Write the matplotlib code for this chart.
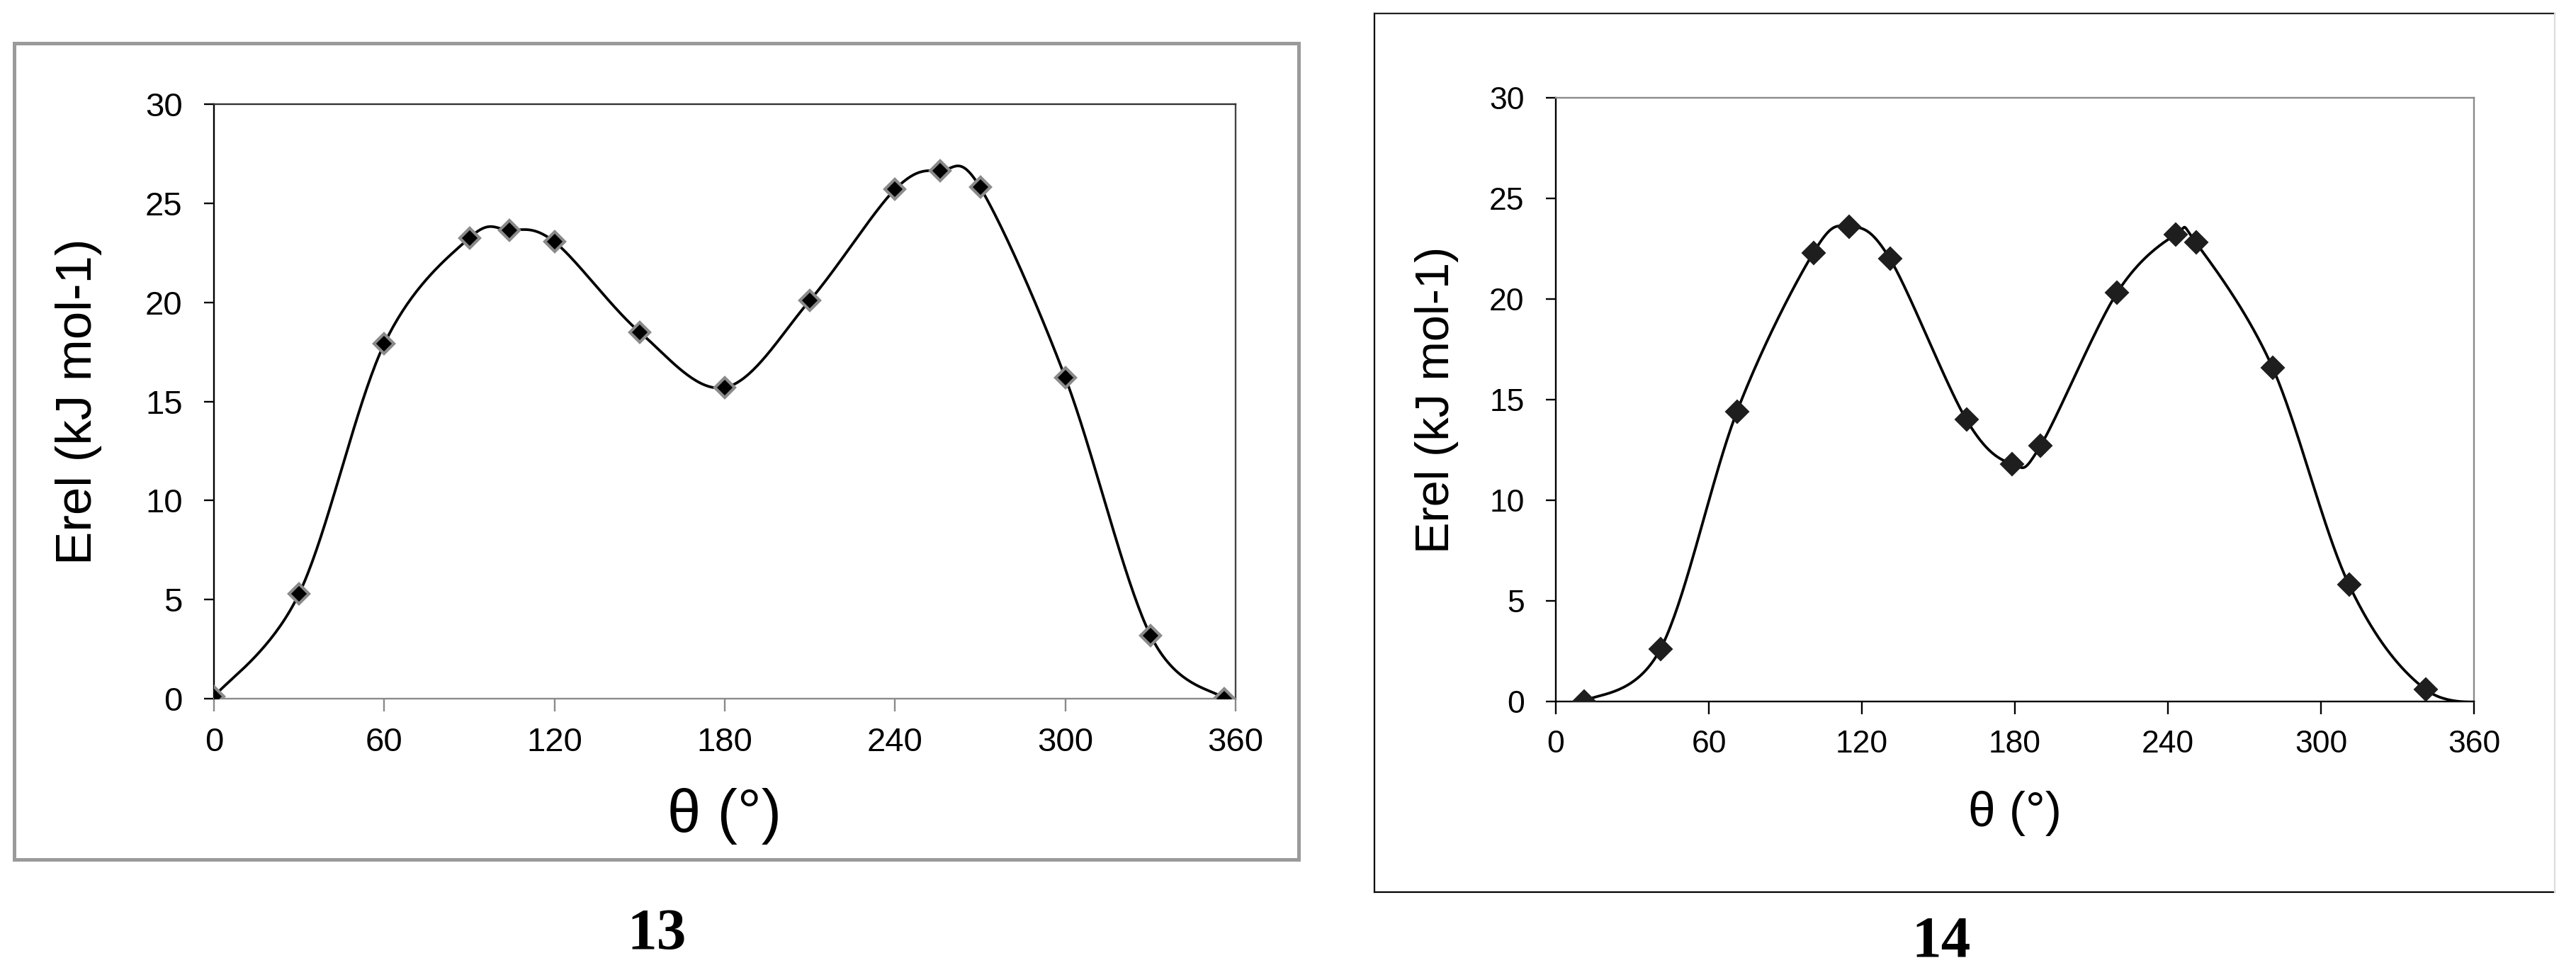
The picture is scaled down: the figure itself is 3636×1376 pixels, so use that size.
import matplotlib
matplotlib.use("Agg")
import matplotlib.pyplot as plt
from matplotlib.lines import Line2D
import numpy as np

# conformer 13
theta_13 = [0, 30, 60, 90, 104, 120, 150, 180, 210, 240, 256, 270, 300, 330, 356]
erel_13 = [0.1, 5.3, 17.9, 23.25, 23.65, 23.05, 18.5, 15.7, 20.1, 25.7, 26.65, 25.8, 16.2, 3.2, 0.0]

# conformer 14 (last point is the periodic copy of the first, off the axis)
theta_14 = [11, 41, 71, 101, 115, 131, 161, 179, 190, 220, 243, 251, 281, 311, 341, 371]
erel_14 = [0.0, 2.6, 14.4, 22.3, 23.6, 22.0, 14.0, 11.8, 12.7, 20.3, 23.2, 22.8, 16.6, 5.8, 0.6, 0.0]

x_ticks = [0, 60, 120, 180, 240, 300, 360]
y_ticks = [0, 5, 10, 15, 20, 25, 30]
labels = ["13", "14"]

W, H = 3636, 1376
DPI = 100


def smooth(x, y, n=40):
    # excel style smoothed line: bezier with catmull-rom control points
    pts = np.column_stack([x, y]).astype(float)
    out = [pts[0]]
    t = np.linspace(0, 1, n)[1:, None]
    for i in range(len(pts) - 1):
        p0 = pts[i - 1] if i > 0 else pts[i]
        p1 = pts[i]
        p2 = pts[i + 1]
        p3 = pts[i + 2] if i + 2 < len(pts) else pts[i + 1]
        c1 = p1 + (p2 - p0) / 6
        c2 = p2 - (p3 - p1) / 6
        seg = (1 - t)**3 * p1 + 3 * (1 - t)**2 * t * c1 + 3 * (1 - t) * t**2 * c2 + t**3 * p2
        out.extend(seg)
    out = np.array(out)
    return out[:, 0], out[:, 1]


def px_axes(x0, y0, x1, y1):
    return [x0 / W, 1 - y1 / H, (x1 - x0) / W, (y1 - y0) / H]


fig = plt.figure(figsize=(W / DPI, H / DPI), dpi=DPI)
fig.patch.set_facecolor("white")
plt.rcParams["font.family"] = ["Liberation Sans", "DejaVu Sans"]

# outer frames
fig.add_artist(plt.Rectangle((20 / W, 1 - 1213 / H), (1833 - 20) / W, (1213 - 61) / H,
                             transform=fig.transFigure, fill=False, ec="#9a9a9a", lw=3.6))
for xs, ys, c in [([1940, 1940], [19, 1259], "black"), ([1940, 3606], [19, 19], "#222222"),
                  ([1940, 3606], [1259, 1259], "black"), ([3606, 3606], [19, 1259], "#dddddd")]:
    fig.add_artist(Line2D([v / W for v in xs], [1 - v / H for v in ys],
                          transform=fig.transFigure, color=c, lw=1.6))

panels = [
    dict(x=theta_13, y=erel_13, box=(302, 147, 1744, 986), tick_fs=34, ylab_fs=51, xlab_fs=61,
         ylab_x=111, xlab_y=1152, lab_x=927, lab_y=1320, mfc="black", mec="#8a8a8a", ms=14, mew=3.0,
         spines=dict(left="black", bottom="#8a8a8a", top="#333333", right="#444444")),
    dict(x=theta_14, y=erel_14, box=(2196, 138, 3492, 990), tick_fs=32, ylab_fs=48, xlab_fs=50,
         ylab_x=2028, xlab_y=1148, lab_x=2740, lab_y=1330, mfc="#1e1e1e", mec="#1e1e1e", ms=16, mew=1.5,
         spines=dict(left="black", bottom="black", top="#8a8a8a", right="#8a8a8a")),
]

for p, lab in zip(panels, labels):
    ax = fig.add_axes(px_axes(*p["box"]))
    sx, sy = smooth(p["x"], p["y"])
    ax.plot(sx, sy, color="black", lw=2.7, zorder=3)
    ax.plot(p["x"], p["y"], ls="none", marker="D", ms=p["ms"], mfc=p["mfc"],
            mec=p["mec"], mew=p["mew"], zorder=4)
    ax.set_xlim(0, 360)
    ax.set_ylim(0, 30)
    ax.set_xticks(x_ticks)
    ax.set_yticks(y_ticks)
    for side, c in p["spines"].items():
        ax.spines[side].set_color(c)
        ax.spines[side].set_linewidth(1.7)
    ax.tick_params(axis="y", direction="out", length=10, width=1.7, pad=22,
                   labelsize=p["tick_fs"], colors="black")
    ax.tick_params(axis="x", direction="out", length=13, width=1.7, pad=16,
                   labelsize=p["tick_fs"], color=p["spines"]["bottom"], labelcolor="black")
    x0, y0, x1, y1 = p["box"]
    fig.text(p["ylab_x"] / W, 1 - ((y0 + y1) / 2) / H, "Erel (kJ mol-1)", rotation=90,
             ha="center", va="center", fontsize=p["ylab_fs"])
    fig.text(((x0 + x1) / 2) / W, 1 - p["xlab_y"] / H, "θ (°)", ha="center", va="center",
             fontsize=p["xlab_fs"])
    fig.text(p["lab_x"] / W, 1 - p["lab_y"] / H, lab, ha="center", va="center",
             fontsize=60, fontweight="bold", family="Liberation Serif")

fig.savefig("out.png", dpi=DPI, facecolor="white")
